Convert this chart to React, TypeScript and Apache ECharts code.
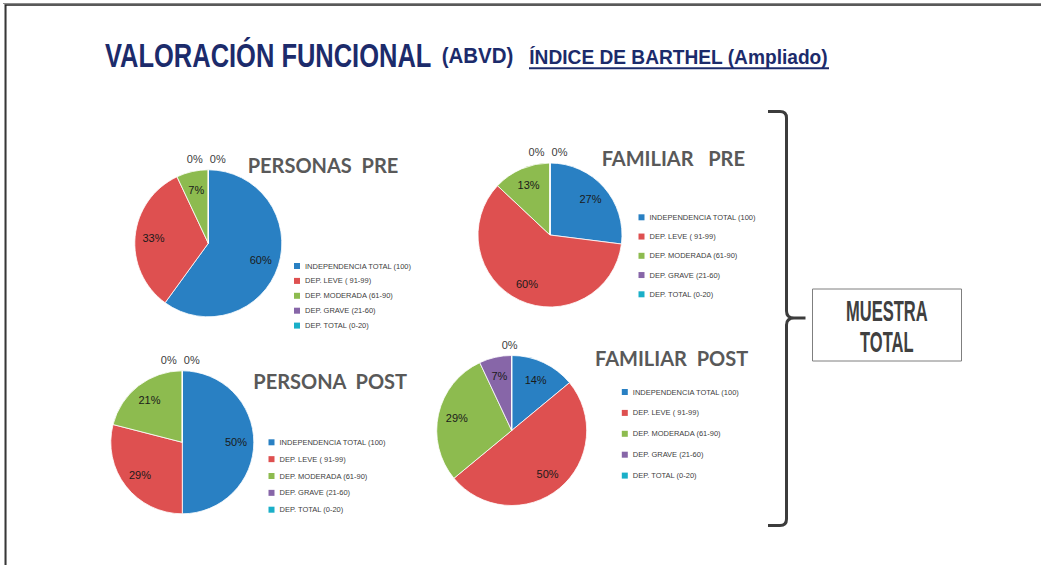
import React, { useEffect, useRef } from 'react';
import * as echarts from 'echarts';

// ---------- data ----------
const categories = [
  'INDEPENDENCIA TOTAL (100)',
  'DEP. LEVE ( 91-99)',
  'DEP. MODERADA (61-90)',
  'DEP. GRAVE (21-60)',
  'DEP. TOTAL (0-20)',
];
const personasPre = [60, 33, 7, 0, 0];
const familiarPre = [27, 60, 13, 0, 0];
const personaPost = [50, 29, 21, 0, 0];
const familiarPost = [14, 50, 29, 7, 0];
const pieTitles = ['PERSONAS  PRE', 'FAMILIAR   PRE', 'PERSONA  POST', 'FAMILIAR  POST'];
const mainTitle = 'VALORACIÓN FUNCIONAL';
const mainSub = '(ABVD)';
const subTitle = 'ÍNDICE DE BARTHEL (Ampliado)';
const boxLines = ['MUESTRA', 'TOTAL'];

// ---------- styles / layout ----------
const sliceColors = ['#2980C3', '#DE5050', '#8DBB4F', '#8766A8', '#1AAFC8'];
const navy = '#1C2B6B';

const pies = [
  { vals: personasPre, c: [208.3, 243.3], r: 73.5, lg: { left: 294, top: 261, gap: 4.9 }, t: [247.7, 165] },
  { vals: familiarPre, c: [550, 235], r: 72, lg: { left: 638.5, top: 212.3, gap: 9.25 }, t: [601.7, 157.8] },
  { vals: personaPost, c: [182.3, 442.3], r: 71.5, lg: { left: 268.5, top: 437.3, gap: 6.85 }, t: [253.3, 380.8] },
  { vals: familiarPost, c: [511.7, 430.5], r: 75, lg: { left: 621.8, top: 387, gap: 10.9 }, t: [595, 357.8] },
];

const braceD =
  'M768,111.5 L780,111.5 Q786.5,111.5 786.5,118 L786.5,311 Q786.5,318 794,318 L805.5,318 ' +
  'M794,318 Q786.5,318 786.5,325 L786.5,519 Q786.5,525.5 780,525.5 L768,525.5';
echarts.graphic.registerShape('brace', echarts.graphic.extendPath(braceD, {}));

function makeLabelLayout(cx: number, cy: number, r: number, vals: number[]) {
  return (p: any) => {
    const v = vals[p.dataIndex];
    const lr = p.labelRect;
    const lx = lr.x + lr.width / 2;
    const ly = lr.y + lr.height / 2;
    if (v === 0) {
      const zeros = vals.map((x, i) => (x === 0 ? i : -1)).filter((i) => i >= 0);
      const k = zeros.indexOf(p.dataIndex);
      const off = -2 + (k - (zeros.length - 1) / 2) * 23;
      return { x: cx + off, y: cy - r - 11, align: 'center', verticalAlign: 'middle' };
    }
    const dx = lx - cx;
    const dy = ly - cy;
    const d = Math.hypot(dx, dy) || 1;
    const t = r * 0.75;
    return { x: cx + (dx / d) * t, y: cy + (dy / d) * t, align: 'center', verticalAlign: 'middle' };
  };
}

export default function App() {
  const ref = useRef<HTMLDivElement>(null);
  useEffect(() => {
    if (!ref.current) return;
    const chart = echarts.init(ref.current, undefined, { renderer: 'svg' });

    const series = pies.map((p) => ({
      type: 'pie',
      center: p.c,
      radius: p.r,
      startAngle: 90,
      clockwise: true,
      avoidLabelOverlap: false,
      silent: true,
      color: sliceColors,
      data: categories.map((n, i) => ({
        name: n,
        value: p.vals[i],
        label: p.vals[i] === 0 ? { color: '#404040' } : undefined,
      })),
      label: {
        show: true,
        position: 'inside',
        formatter: '{c}%',
        fontSize: 11,
        fontFamily: 'Liberation Sans',
        color: '#1a1a1a',
      },
      labelLine: { show: false },
      itemStyle: { borderColor: '#ffffff', borderWidth: 0.8 },
      emphasis: { disabled: true },
      labelLayout: makeLabelLayout(p.c[0], p.c[1], p.r, p.vals),
    }));

    const legends = pies.map((p) => ({
      data: categories,
      orient: 'vertical',
      left: p.lg.left,
      top: p.lg.top,
      padding: 0,
      itemGap: p.lg.gap,
      itemWidth: 6,
      itemHeight: 6,
      icon: 'rect',
      selectedMode: false,
      itemStyle: { borderWidth: 0 },
      textStyle: { fontSize: 7.5, fontFamily: 'Liberation Sans', color: '#404040', lineHeight: 10 },
    }));

    const graphics: any[] = [
      // slide frame
      { type: 'line', shape: { x1: 3, y1: 3.5, x2: 1041, y2: 3.5 }, style: { stroke: '#8a8a8a', lineWidth: 1 } },
      { type: 'line', shape: { x1: 4, y1: 5, x2: 1041, y2: 5 }, style: { stroke: '#222', lineWidth: 1.6 } },
      { type: 'line', shape: { x1: 4.5, y1: 4, x2: 4.5, y2: 565 }, style: { stroke: '#9a9a9a', lineWidth: 1 } },
      { type: 'line', shape: { x1: 5.8, y1: 5, x2: 5.8, y2: 565 }, style: { stroke: '#222', lineWidth: 1.4 } },
      // main titles
      {
        type: 'text', x: 105, y: 55, scaleX: 0.772,
        style: { text: mainTitle, fill: navy, fontSize: 33, fontWeight: 'bold', fontFamily: 'Liberation Sans', align: 'left', verticalAlign: 'middle' },
      },
      {
        type: 'text', x: 441.7, y: 55.5, scaleX: 0.91,
        style: { text: mainSub, fill: navy, fontSize: 22.5, fontWeight: 'bold', fontFamily: 'Liberation Sans', align: 'left', verticalAlign: 'middle' },
      },
      {
        type: 'text', x: 529.3, y: 56.5, scaleX: 0.912,
        style: { text: subTitle, fill: navy, fontSize: 21, fontWeight: 'bold', fontFamily: 'Liberation Sans', align: 'left', verticalAlign: 'middle' },
      },
      { type: 'line', shape: { x1: 529, y1: 68.3, x2: 829, y2: 68.3 }, style: { stroke: navy, lineWidth: 2 } },
      // pie titles
      ...pies.map((p, i) => ({
        type: 'text', x: p.t[0], y: p.t[1],
        style: { text: pieTitles[i], fill: '#595959', fontSize: 20, fontWeight: 'bold', fontFamily: 'Lato', align: 'left', verticalAlign: 'middle', whiteSpace: 'pre' },
      })),
      // brace
      { type: 'brace', x: 0, y: 0, style: { stroke: '#3c3c3c', lineWidth: 3, fill: 'none' } },
      // box
      { type: 'rect', shape: { x: 812.5, y: 289, width: 149, height: 72 }, style: { fill: '#fff', stroke: '#7f7f7f', lineWidth: 1 } },
      {
        type: 'text', x: 886.8, y: 310.5, scaleX: 0.55,
        style: { text: boxLines[0], fill: '#404040', fontSize: 30, fontWeight: 'bold', fontFamily: 'Liberation Sans', align: 'center', verticalAlign: 'middle' },
      },
      {
        type: 'text', x: 886.8, y: 341, scaleX: 0.55,
        style: { text: boxLines[1], fill: '#404040', fontSize: 30, fontWeight: 'bold', fontFamily: 'Liberation Sans', align: 'center', verticalAlign: 'middle' },
      },
    ];

    chart.setOption({
      animation: false,
      backgroundColor: '#ffffff',
      color: sliceColors,
      legend: legends,
      series,
      graphic: graphics,
    });
    return () => chart.dispose();
  }, []);
  return (
    <div
      ref={ref}
      style={{ position: 'absolute', left: 0, top: 0, width: 1041, height: 565, background: '#fff' }}
    />
  );
}
